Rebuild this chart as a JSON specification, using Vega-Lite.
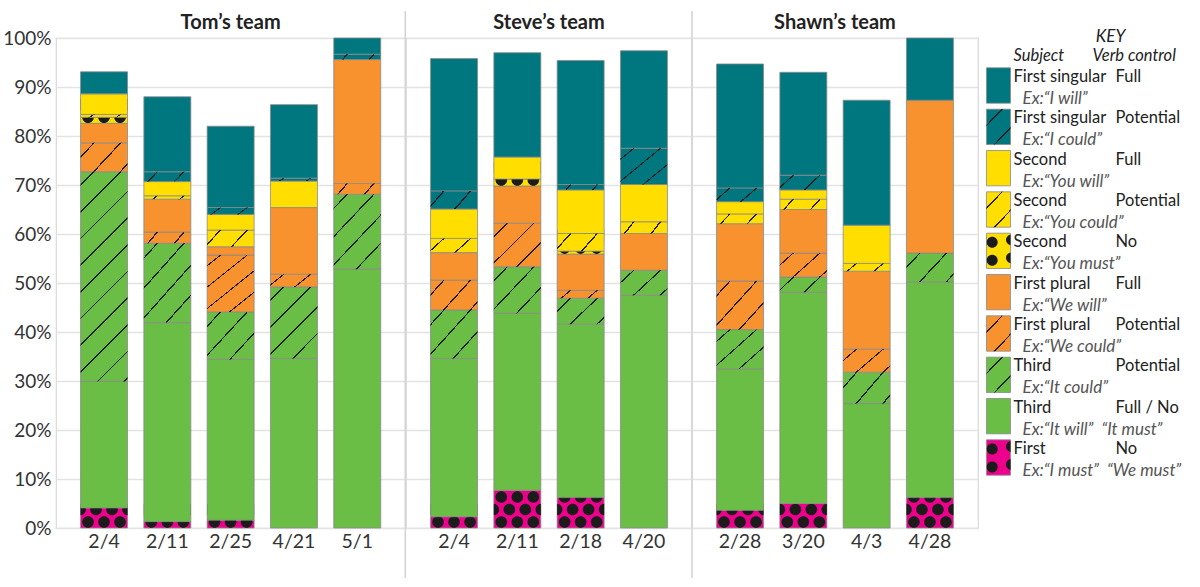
{
"$schema": "https://vega.github.io/schema/vega-lite/v6.json",
"background": "white",
"padding": {"left": 2, "top": 9, "right": 0, "bottom": 0},
"config": {"font": "Lato", "view": {"stroke": null}},
"datasets": {
"cats": [
{"cat":"First No","order":1,"pattern":"dots","subject":"First","verb":"No","ex":"Ex:“I must”\u00a0\u00a0“We must”"},
{"cat":"Third Full/No","order":2,"pattern":"solid","subject":"Third","verb":"Full / No","ex":"Ex:“It will”\u00a0\u00a0“It must”"},
{"cat":"Third Potential","order":3,"pattern":"hatch","subject":"Third","verb":"Potential","ex":"Ex:“It could”"},
{"cat":"First plural Potential","order":4,"pattern":"hatch","subject":"First plural","verb":"Potential","ex":"Ex:“We could”"},
{"cat":"First plural Full","order":5,"pattern":"solid","subject":"First plural","verb":"Full","ex":"Ex:“We will”"},
{"cat":"Second No","order":6,"pattern":"dots","subject":"Second","verb":"No","ex":"Ex:“You must”"},
{"cat":"Second Potential","order":7,"pattern":"hatch","subject":"Second","verb":"Potential","ex":"Ex:“You could”"},
{"cat":"Second Full","order":8,"pattern":"solid","subject":"Second","verb":"Full","ex":"Ex:“You will”"},
{"cat":"First singular Potential","order":9,"pattern":"hatch","subject":"First singular","verb":"Potential","ex":"Ex:“I could”"},
{"cat":"First singular Full","order":10,"pattern":"solid","subject":"First singular","verb":"Full","ex":"Ex:“I will”"}
],
"bars": [
{"team":"Tom’s team","date":"2/4","cat":"First No","value":4.1},
{"team":"Tom’s team","date":"2/4","cat":"Third Full/No","value":25.8},
{"team":"Tom’s team","date":"2/4","cat":"Third Potential","value":42.8},
{"team":"Tom’s team","date":"2/4","cat":"First plural Potential","value":5.9},
{"team":"Tom’s team","date":"2/4","cat":"First plural Full","value":4.0},
{"team":"Tom’s team","date":"2/4","cat":"Second No","value":1.2},
{"team":"Tom’s team","date":"2/4","cat":"Second Potential","value":0.6},
{"team":"Tom’s team","date":"2/4","cat":"Second Full","value":4.2},
{"team":"Tom’s team","date":"2/4","cat":"First singular Full","value":4.5},
{"team":"Tom’s team","date":"2/11","cat":"First No","value":1.3},
{"team":"Tom’s team","date":"2/11","cat":"Third Full/No","value":40.6},
{"team":"Tom’s team","date":"2/11","cat":"Third Potential","value":16.2},
{"team":"Tom’s team","date":"2/11","cat":"First plural Potential","value":2.3},
{"team":"Tom’s team","date":"2/11","cat":"First plural Full","value":6.7},
{"team":"Tom’s team","date":"2/11","cat":"Second Potential","value":0.7},
{"team":"Tom’s team","date":"2/11","cat":"Second Full","value":2.9},
{"team":"Tom’s team","date":"2/11","cat":"First singular Potential","value":2.0},
{"team":"Tom’s team","date":"2/11","cat":"First singular Full","value":15.3},
{"team":"Tom’s team","date":"2/25","cat":"First No","value":1.6},
{"team":"Tom’s team","date":"2/25","cat":"Third Full/No","value":32.8},
{"team":"Tom’s team","date":"2/25","cat":"Third Potential","value":9.7},
{"team":"Tom’s team","date":"2/25","cat":"First plural Potential","value":11.6},
{"team":"Tom’s team","date":"2/25","cat":"First plural Full","value":1.7},
{"team":"Tom’s team","date":"2/25","cat":"Second Potential","value":3.4},
{"team":"Tom’s team","date":"2/25","cat":"Second Full","value":3.2},
{"team":"Tom’s team","date":"2/25","cat":"First singular Potential","value":1.4},
{"team":"Tom’s team","date":"2/25","cat":"First singular Full","value":16.6},
{"team":"Tom’s team","date":"4/21","cat":"Third Full/No","value":34.6},
{"team":"Tom’s team","date":"4/21","cat":"Third Potential","value":14.6},
{"team":"Tom’s team","date":"4/21","cat":"First plural Potential","value":2.6},
{"team":"Tom’s team","date":"4/21","cat":"First plural Full","value":13.6},
{"team":"Tom’s team","date":"4/21","cat":"Second Full","value":5.4},
{"team":"Tom’s team","date":"4/21","cat":"First singular Potential","value":0.6},
{"team":"Tom’s team","date":"4/21","cat":"First singular Full","value":15.0},
{"team":"Tom’s team","date":"5/1","cat":"Third Full/No","value":52.8},
{"team":"Tom’s team","date":"5/1","cat":"Third Potential","value":15.3},
{"team":"Tom’s team","date":"5/1","cat":"First plural Potential","value":2.2},
{"team":"Tom’s team","date":"5/1","cat":"First plural Full","value":25.3},
{"team":"Tom’s team","date":"5/1","cat":"First singular Potential","value":1.1},
{"team":"Tom’s team","date":"5/1","cat":"First singular Full","value":3.3},
{"team":"Steve’s team","date":"2/4","cat":"First No","value":2.3},
{"team":"Steve’s team","date":"2/4","cat":"Third Full/No","value":32.3},
{"team":"Steve’s team","date":"2/4","cat":"Third Potential","value":9.9},
{"team":"Steve’s team","date":"2/4","cat":"First plural Potential","value":6.1},
{"team":"Steve’s team","date":"2/4","cat":"First plural Full","value":5.6},
{"team":"Steve’s team","date":"2/4","cat":"Second Potential","value":2.9},
{"team":"Steve’s team","date":"2/4","cat":"Second Full","value":6.0},
{"team":"Steve’s team","date":"2/4","cat":"First singular Potential","value":3.7},
{"team":"Steve’s team","date":"2/4","cat":"First singular Full","value":27.0},
{"team":"Steve’s team","date":"2/11","cat":"First No","value":7.7},
{"team":"Steve’s team","date":"2/11","cat":"Third Full/No","value":36.1},
{"team":"Steve’s team","date":"2/11","cat":"Third Potential","value":9.5},
{"team":"Steve’s team","date":"2/11","cat":"First plural Potential","value":8.9},
{"team":"Steve’s team","date":"2/11","cat":"First plural Full","value":7.6},
{"team":"Steve’s team","date":"2/11","cat":"Second No","value":1.4},
{"team":"Steve’s team","date":"2/11","cat":"Second Full","value":4.5},
{"team":"Steve’s team","date":"2/11","cat":"First singular Full","value":21.3},
{"team":"Steve’s team","date":"2/18","cat":"First No","value":6.2},
{"team":"Steve’s team","date":"2/18","cat":"Third Full/No","value":35.4},
{"team":"Steve’s team","date":"2/18","cat":"Third Potential","value":5.3},
{"team":"Steve’s team","date":"2/18","cat":"First plural Potential","value":1.6},
{"team":"Steve’s team","date":"2/18","cat":"First plural Full","value":7.4},
{"team":"Steve’s team","date":"2/18","cat":"Second No","value":0.6},
{"team":"Steve’s team","date":"2/18","cat":"Second Potential","value":3.6},
{"team":"Steve’s team","date":"2/18","cat":"Second Full","value":8.9},
{"team":"Steve’s team","date":"2/18","cat":"First singular Potential","value":1.1},
{"team":"Steve’s team","date":"2/18","cat":"First singular Full","value":25.3},
{"team":"Steve’s team","date":"4/20","cat":"Third Full/No","value":47.5},
{"team":"Steve’s team","date":"4/20","cat":"Third Potential","value":5.1},
{"team":"Steve’s team","date":"4/20","cat":"First plural Full","value":7.5},
{"team":"Steve’s team","date":"4/20","cat":"Second Potential","value":2.4},
{"team":"Steve’s team","date":"4/20","cat":"Second Full","value":7.6},
{"team":"Steve’s team","date":"4/20","cat":"First singular Potential","value":7.4},
{"team":"Steve’s team","date":"4/20","cat":"First singular Full","value":19.9},
{"team":"Shawn’s team","date":"2/28","cat":"First No","value":3.6},
{"team":"Shawn’s team","date":"2/28","cat":"Third Full/No","value":28.9},
{"team":"Shawn’s team","date":"2/28","cat":"Third Potential","value":8.0},
{"team":"Shawn’s team","date":"2/28","cat":"First plural Potential","value":9.9},
{"team":"Shawn’s team","date":"2/28","cat":"First plural Full","value":11.7},
{"team":"Shawn’s team","date":"2/28","cat":"Second Potential","value":2.0},
{"team":"Shawn’s team","date":"2/28","cat":"Second Full","value":2.5},
{"team":"Shawn’s team","date":"2/28","cat":"First singular Potential","value":2.8},
{"team":"Shawn’s team","date":"2/28","cat":"First singular Full","value":25.3},
{"team":"Shawn’s team","date":"3/20","cat":"First No","value":5.0},
{"team":"Shawn’s team","date":"3/20","cat":"Third Full/No","value":43.1},
{"team":"Shawn’s team","date":"3/20","cat":"Third Potential","value":3.1},
{"team":"Shawn’s team","date":"3/20","cat":"First plural Potential","value":4.9},
{"team":"Shawn’s team","date":"3/20","cat":"First plural Full","value":8.9},
{"team":"Shawn’s team","date":"3/20","cat":"Second Potential","value":2.1},
{"team":"Shawn’s team","date":"3/20","cat":"Second Full","value":1.9},
{"team":"Shawn’s team","date":"3/20","cat":"First singular Potential","value":3.0},
{"team":"Shawn’s team","date":"3/20","cat":"First singular Full","value":21.0},
{"team":"Shawn’s team","date":"4/3","cat":"Third Full/No","value":25.4},
{"team":"Shawn’s team","date":"4/3","cat":"Third Potential","value":6.4},
{"team":"Shawn’s team","date":"4/3","cat":"First plural Potential","value":4.7},
{"team":"Shawn’s team","date":"4/3","cat":"First plural Full","value":15.9},
{"team":"Shawn’s team","date":"4/3","cat":"Second Potential","value":1.6},
{"team":"Shawn’s team","date":"4/3","cat":"Second Full","value":7.8},
{"team":"Shawn’s team","date":"4/3","cat":"First singular Full","value":25.5},
{"team":"Shawn’s team","date":"4/28","cat":"First No","value":6.2},
{"team":"Shawn’s team","date":"4/28","cat":"Third Full/No","value":44.0},
{"team":"Shawn’s team","date":"4/28","cat":"Third Potential","value":5.9},
{"team":"Shawn’s team","date":"4/28","cat":"First plural Full","value":31.2},
{"team":"Shawn’s team","date":"4/28","cat":"First singular Full","value":12.7}
]
},
"spacing": 7,
"hconcat": [
{
"data": {"name": "bars"},
"transform": [
{"lookup": "cat", "from": {"data": {"name": "cats"}, "key": "cat", "fields": ["order", "pattern"]}},
{"stack": "value", "groupby": ["team", "date"], "sort": [{"field": "order", "order": "ascending"}], "as": ["y0", "y1"]}
],
"facet": {"column": {"field": "team", "type": "nominal", "sort": ["Tom’s team", "Steve’s team", "Shawn’s team"], "title": null,
  "header": {"labelFontSize": 20, "labelFontWeight": "bold", "labelColor": "#222222", "labelPadding": 5}}},
"spacing": 0,
"align": "none",
"bounds": "flush",
"resolve": {"scale": {"x": "independent"}},
"spec": {
"width": {"step": 63.3},
"height": 490,
"view": {"stroke": "#d9d9d9", "strokeWidth": 1.2},
"encoding": {
  "x": {"field": "date", "type": "nominal", "title": null,
    "sort": ["2/4","2/11","2/25","4/21","5/1","2/18","4/20","2/28","3/20","4/3","4/28"],
    "scale": {"paddingInner": 0.258, "paddingOuter": 0.388},
    "axis": {"labelAngle": 0, "labelFontSize": 19.5, "labelColor": "#333333", "ticks": false, "domain": false, "labelPadding": 4}}
},
"layer": [
{"transform": [{"filter": "datum.order === 1"}],
 "mark": {"type": "bar", "stroke": "#8a8a8a", "strokeWidth": 0.8},
 "encoding": {
  "y": {"field": "y1", "type": "quantitative", "title": null, "scale": {"domain": [0, 100], "nice": false},
    "axis": {"values": [0,10,20,30,40,50,60,70,80,90,100], "labelExpr": "datum.value + '%'", "labelFontSize": 19, "labelColor": "#333333", "ticks": false, "domain": false, "gridColor": "#e3e3e3", "gridWidth": 1.3, "labelPadding": 5}},
  "y2": {"field": "y0"},
  "color": {"field": "cat", "type": "nominal", "legend": null,
    "scale": {"domain": ["First No","Third Full/No","Third Potential","First plural Potential","First plural Full","Second No","Second Potential","Second Full","First singular Potential","First singular Full"],
      "range": ["#EC008C","#6ABD45","#6ABD45","#F7922F","#F7922F","#FFDE00","#FFDE00","#FFDE00","#00777F","#00777F"]}}
 }},
{"transform": [{"filter": "datum.order === 1"}],
 "mark": {"type": "point", "shape": "M-21.8,-6a5.8,5.8 0 1,0 11.6,0a5.8,5.8 0 1,0 -11.6,0ZM-5.8,-6a5.8,5.8 0 1,0 11.6,0a5.8,5.8 0 1,0 -11.6,0ZM10.2,-6a5.8,5.8 0 1,0 11.6,0a5.8,5.8 0 1,0 -11.6,0ZM-13.8,-18.5a5.8,5.8 0 1,0 11.6,0a5.8,5.8 0 1,0 -11.6,0ZM2.2,-18.5a5.8,5.8 0 1,0 11.6,0a5.8,5.8 0 1,0 -11.6,0ZM-23.5,-24.28A5.8,5.8 0 0,1 -23.5,-12.72ZM23.5,-24.28A5.8,5.8 0 0,0 23.5,-12.72ZM-21.8,-31a5.8,5.8 0 1,0 11.6,0a5.8,5.8 0 1,0 -11.6,0ZM-5.8,-31a5.8,5.8 0 1,0 11.6,0a5.8,5.8 0 1,0 -11.6,0ZM10.2,-31a5.8,5.8 0 1,0 11.6,0a5.8,5.8 0 1,0 -11.6,0Z", "size": 4, "filled": true, "color": "#1b1b1b", "opacity": 1, "strokeWidth": 0},
 "encoding": {"y": {"field": "y0", "type": "quantitative", "title": null}}},
{"transform": [{"filter": "datum.order >= 2 && datum.order <= 6"}],
 "mark": {"type": "bar", "stroke": "#8a8a8a", "strokeWidth": 0.8},
 "encoding": {
  "y": {"field": "y1", "type": "quantitative", "title": null},
  "y2": {"field": "y0"},
  "color": {"field": "cat", "type": "nominal", "legend": null}
 }},
{"transform": [{"filter": "datum.order === 6"}],
 "mark": {"type": "point", "shape": "M-21.8,-6a5.8,5.8 0 1,0 11.6,0a5.8,5.8 0 1,0 -11.6,0ZM-5.8,-6a5.8,5.8 0 1,0 11.6,0a5.8,5.8 0 1,0 -11.6,0ZM10.2,-6a5.8,5.8 0 1,0 11.6,0a5.8,5.8 0 1,0 -11.6,0ZM-13.8,-18.5a5.8,5.8 0 1,0 11.6,0a5.8,5.8 0 1,0 -11.6,0ZM2.2,-18.5a5.8,5.8 0 1,0 11.6,0a5.8,5.8 0 1,0 -11.6,0ZM-23.5,-24.28A5.8,5.8 0 0,1 -23.5,-12.72ZM23.5,-24.28A5.8,5.8 0 0,0 23.5,-12.72Z", "size": 4, "filled": true, "color": "#1b1b1b", "opacity": 1, "strokeWidth": 0},
 "encoding": {"y": {"field": "y0", "type": "quantitative", "title": null}}},
{"transform": [{"filter": "datum.order >= 7"}],
 "mark": {"type": "bar", "stroke": "#8a8a8a", "strokeWidth": 0.8},
 "encoding": {
  "y": {"field": "y1", "type": "quantitative", "title": null},
  "y2": {"field": "y0"},
  "color": {"field": "cat", "type": "nominal", "legend": null}
 }},
{"transform": [{"filter": "datum.pattern === 'hatch' && datum.value < 1.3"}],
 "mark": {"type": "bar", "strokeWidth": 0, "fill": {"gradient": "linear", "x1": 0, "y1": 0, "x2": 1.084, "y2": 0.1015, "stops": [
   {"offset": 0, "color": "rgba(30,30,30,0)"},
   {"offset": 0.2435, "color": "rgba(30,30,30,0)"}, {"offset": 0.2435, "color": "#1e1e1e"}, {"offset": 0.2765, "color": "#1e1e1e"}, {"offset": 0.2765, "color": "rgba(30,30,30,0)"},
   {"offset": 0.7635, "color": "rgba(30,30,30,0)"}, {"offset": 0.7635, "color": "#1e1e1e"}, {"offset": 0.7965, "color": "#1e1e1e"}, {"offset": 0.7965, "color": "rgba(30,30,30,0)"},
   {"offset": 1, "color": "rgba(30,30,30,0)"}]}},
 "encoding": {"y": {"field": "y1", "type": "quantitative", "title": null}, "y2": {"field": "y0"}}},
{"transform": [{"filter": "datum.pattern === 'hatch' && datum.value >= 1.3 && datum.value < 2.5"}],
 "mark": {"type": "bar", "strokeWidth": 0, "fill": {"gradient": "linear", "x1": 0, "y1": 0, "x2": 1.153, "y2": 0.228, "stops": [
   {"offset": 0, "color": "rgba(30,30,30,0)"},
   {"offset": 0.222, "color": "rgba(30,30,30,0)"}, {"offset": 0.222, "color": "#1e1e1e"}, {"offset": 0.252, "color": "#1e1e1e"}, {"offset": 0.252, "color": "rgba(30,30,30,0)"},
   {"offset": 0.696, "color": "rgba(30,30,30,0)"}, {"offset": 0.696, "color": "#1e1e1e"}, {"offset": 0.726, "color": "#1e1e1e"}, {"offset": 0.726, "color": "rgba(30,30,30,0)"},
   {"offset": 1, "color": "rgba(30,30,30,0)"}]}},
 "encoding": {"y": {"field": "y1", "type": "quantitative", "title": null}, "y2": {"field": "y0"}}},
{"transform": [{"filter": "datum.pattern === 'hatch' && datum.value >= 2.5 && datum.value < 4.3"}],
 "mark": {"type": "bar", "strokeWidth": 0, "fill": {"gradient": "linear", "x1": 0, "y1": 0, "x2": 1.2, "y2": 0.401, "stops": [
   {"offset": 0, "color": "rgba(30,30,30,0)"},
   {"offset": 0.199, "color": "rgba(30,30,30,0)"}, {"offset": 0.199, "color": "#1e1e1e"}, {"offset": 0.227, "color": "#1e1e1e"}, {"offset": 0.227, "color": "rgba(30,30,30,0)"},
   {"offset": 0.625, "color": "rgba(30,30,30,0)"}, {"offset": 0.625, "color": "#1e1e1e"}, {"offset": 0.653, "color": "#1e1e1e"}, {"offset": 0.653, "color": "rgba(30,30,30,0)"},
   {"offset": 1, "color": "rgba(30,30,30,0)"}]}},
 "encoding": {"y": {"field": "y1", "type": "quantitative", "title": null}, "y2": {"field": "y0"}}},
{"transform": [{"filter": "datum.pattern === 'hatch' && datum.value >= 4.3 && datum.value < 7"}],
 "mark": {"type": "bar", "strokeWidth": 0, "fill": {"gradient": "linear", "x1": 0, "y1": 0, "x2": 1.184, "y2": 0.68, "stops": [
   {"offset": 0, "color": "rgba(30,30,30,0)"},
   {"offset": 0.169, "color": "rgba(30,30,30,0)"}, {"offset": 0.169, "color": "#1e1e1e"}, {"offset": 0.192, "color": "#1e1e1e"}, {"offset": 0.192, "color": "rgba(30,30,30,0)"},
   {"offset": 0.53, "color": "rgba(30,30,30,0)"}, {"offset": 0.53, "color": "#1e1e1e"}, {"offset": 0.553, "color": "#1e1e1e"}, {"offset": 0.553, "color": "rgba(30,30,30,0)"},
   {"offset": 0.89, "color": "rgba(30,30,30,0)"}, {"offset": 0.89, "color": "#1e1e1e"}, {"offset": 0.914, "color": "#1e1e1e"}, {"offset": 0.914, "color": "rgba(30,30,30,0)"},
   {"offset": 1, "color": "rgba(30,30,30,0)"}]}},
 "encoding": {"y": {"field": "y1", "type": "quantitative", "title": null}, "y2": {"field": "y0"}}},
{"transform": [{"filter": "datum.pattern === 'hatch' && datum.value >= 7 && datum.value < 11"}],
 "mark": {"type": "bar", "strokeWidth": 0, "fill": {"gradient": "linear", "x1": 0, "y1": 0, "x2": 1.032, "y2": 0.966, "stops": [
   {"offset": 0, "color": "rgba(30,30,30,0)"},
   {"offset": 0.137, "color": "rgba(30,30,30,0)"}, {"offset": 0.137, "color": "#1e1e1e"}, {"offset": 0.156, "color": "#1e1e1e"}, {"offset": 0.156, "color": "rgba(30,30,30,0)"},
   {"offset": 0.431, "color": "rgba(30,30,30,0)"}, {"offset": 0.431, "color": "#1e1e1e"}, {"offset": 0.449, "color": "#1e1e1e"}, {"offset": 0.449, "color": "rgba(30,30,30,0)"},
   {"offset": 0.724, "color": "rgba(30,30,30,0)"}, {"offset": 0.724, "color": "#1e1e1e"}, {"offset": 0.742, "color": "#1e1e1e"}, {"offset": 0.742, "color": "rgba(30,30,30,0)"},
   {"offset": 1, "color": "rgba(30,30,30,0)"}]}},
 "encoding": {"y": {"field": "y1", "type": "quantitative", "title": null}, "y2": {"field": "y0"}}},
{"transform": [{"filter": "datum.pattern === 'hatch' && datum.value >= 11 && datum.value < 20"}],
 "mark": {"type": "bar", "strokeWidth": 0, "fill": {"gradient": "linear", "x1": 0, "y1": 0, "x2": 0.765, "y2": 1.156, "stops": [
   {"offset": 0, "color": "rgba(30,30,30,0)"},
   {"offset": 0.106, "color": "rgba(30,30,30,0)"}, {"offset": 0.106, "color": "#1e1e1e"}, {"offset": 0.12, "color": "#1e1e1e"}, {"offset": 0.12, "color": "rgba(30,30,30,0)"},
   {"offset": 0.332, "color": "rgba(30,30,30,0)"}, {"offset": 0.332, "color": "#1e1e1e"}, {"offset": 0.346, "color": "#1e1e1e"}, {"offset": 0.346, "color": "rgba(30,30,30,0)"},
   {"offset": 0.558, "color": "rgba(30,30,30,0)"}, {"offset": 0.558, "color": "#1e1e1e"}, {"offset": 0.572, "color": "#1e1e1e"}, {"offset": 0.572, "color": "rgba(30,30,30,0)"},
   {"offset": 0.784, "color": "rgba(30,30,30,0)"}, {"offset": 0.784, "color": "#1e1e1e"}, {"offset": 0.798, "color": "#1e1e1e"}, {"offset": 0.798, "color": "rgba(30,30,30,0)"},
   {"offset": 1, "color": "rgba(30,30,30,0)"}]}},
 "encoding": {"y": {"field": "y1", "type": "quantitative", "title": null}, "y2": {"field": "y0"}}},
{"transform": [{"filter": "datum.pattern === 'hatch' && datum.value >= 20"}],
 "mark": {"type": "bar", "strokeWidth": 0, "fill": {"gradient": "linear", "x1": 0, "y1": 0, "x2": 0.261, "y2": 1.166, "stops": [
   {"offset": 0, "color": "rgba(30,30,30,0)"},
   {"offset": 0.0487, "color": "rgba(30,30,30,0)"}, {"offset": 0.0487, "color": "#1e1e1e"}, {"offset": 0.0553, "color": "#1e1e1e"}, {"offset": 0.0553, "color": "rgba(30,30,30,0)"},
   {"offset": 0.1527, "color": "rgba(30,30,30,0)"}, {"offset": 0.1527, "color": "#1e1e1e"}, {"offset": 0.1593, "color": "#1e1e1e"}, {"offset": 0.1593, "color": "rgba(30,30,30,0)"},
   {"offset": 0.2567, "color": "rgba(30,30,30,0)"}, {"offset": 0.2567, "color": "#1e1e1e"}, {"offset": 0.2633, "color": "#1e1e1e"}, {"offset": 0.2633, "color": "rgba(30,30,30,0)"},
   {"offset": 0.3607, "color": "rgba(30,30,30,0)"}, {"offset": 0.3607, "color": "#1e1e1e"}, {"offset": 0.3673, "color": "#1e1e1e"}, {"offset": 0.3673, "color": "rgba(30,30,30,0)"},
   {"offset": 0.4647, "color": "rgba(30,30,30,0)"}, {"offset": 0.4647, "color": "#1e1e1e"}, {"offset": 0.4713, "color": "#1e1e1e"}, {"offset": 0.4713, "color": "rgba(30,30,30,0)"},
   {"offset": 0.5677, "color": "rgba(30,30,30,0)"}, {"offset": 0.5677, "color": "#1e1e1e"}, {"offset": 0.5743, "color": "#1e1e1e"}, {"offset": 0.5743, "color": "rgba(30,30,30,0)"},
   {"offset": 0.6717, "color": "rgba(30,30,30,0)"}, {"offset": 0.6717, "color": "#1e1e1e"}, {"offset": 0.6783, "color": "#1e1e1e"}, {"offset": 0.6783, "color": "rgba(30,30,30,0)"},
   {"offset": 0.7757, "color": "rgba(30,30,30,0)"}, {"offset": 0.7757, "color": "#1e1e1e"}, {"offset": 0.7823, "color": "#1e1e1e"}, {"offset": 0.7823, "color": "rgba(30,30,30,0)"},
   {"offset": 0.8797, "color": "rgba(30,30,30,0)"}, {"offset": 0.8797, "color": "#1e1e1e"}, {"offset": 0.8863, "color": "#1e1e1e"}, {"offset": 0.8863, "color": "rgba(30,30,30,0)"},
   {"offset": 0.9837, "color": "rgba(30,30,30,0)"}, {"offset": 0.9837, "color": "#1e1e1e"}, {"offset": 0.9903, "color": "#1e1e1e"}, {"offset": 0.9903, "color": "rgba(30,30,30,0)"},
   {"offset": 1, "color": "rgba(30,30,30,0)"}]}},
 "encoding": {"y": {"field": "y1", "type": "quantitative", "title": null}, "y2": {"field": "y0"}}},
{"transform": [{"aggregate": [{"op": "count", "as": "n"}], "groupby": ["team"]}, {"filter": "datum.team !== 'Shawn’s team'"}],
 "mark": {"type": "rule", "color": "#d2d2d2", "strokeWidth": 1.5},
 "encoding": {"x": {"value": "width"}, "y": {"datum": 105.5, "type": "quantitative"}, "y2": {"datum": -10.2}}}
]
}
},
{
"data": {"name": "cats"},
"width": 212,
"height": 490,
"layer": [
{"mark": {"type": "rect", "stroke": "#8a8a8a", "strokeWidth": 0.8},
 "encoding": {
  "x": {"datum": 0.5, "type": "quantitative", "scale": {"domain": [0, 212], "nice": false, "zero": false}, "axis": null},
  "x2": {"datum": 24.5},
  "y": {"field": "cat", "type": "nominal", "sort": {"field": "order", "order": "descending"}, "axis": null, "scale": {"paddingInner": 0.145, "paddingOuter": 1.32, "align": 0.361}},
  "color": {"field": "cat", "type": "nominal", "legend": null}
 }},
{"transform": [{"filter": "datum.pattern === 'hatch'"}],
 "mark": {"type": "rect", "strokeWidth": 0, "fill": {"gradient": "linear", "x1": 0, "y1": 0, "x2": 0.813, "y2": 1.134, "stops": [
   {"offset": 0, "color": "rgba(30,30,30,0)"},
   {"offset": 0.255, "color": "rgba(30,30,30,0)"}, {"offset": 0.255, "color": "#1e1e1e"}, {"offset": 0.285, "color": "#1e1e1e"}, {"offset": 0.285, "color": "rgba(30,30,30,0)"},
   {"offset": 0.707, "color": "rgba(30,30,30,0)"}, {"offset": 0.707, "color": "#1e1e1e"}, {"offset": 0.737, "color": "#1e1e1e"}, {"offset": 0.737, "color": "rgba(30,30,30,0)"},
   {"offset": 1, "color": "rgba(30,30,30,0)"}]}},
 "encoding": {
  "x": {"datum": 0.5, "type": "quantitative", "axis": null},
  "x2": {"datum": 24.5},
  "y": {"field": "cat", "type": "nominal", "sort": {"field": "order", "order": "descending"}, "axis": null}
 }},
{"transform": [{"filter": "datum.pattern === 'dots'"}],
 "mark": {"type": "point", "shape": "M-11.8,-8.5a5.5,5.5 0 1,0 11,0a5.5,5.5 0 1,0 -11,0ZM-11.8,9.5a5.5,5.5 0 1,0 11,0a5.5,5.5 0 1,0 -11,0ZM12,-16.41A5.5,5.5 0 0,0 12,-5.59ZM12,1.59A5.5,5.5 0 0,0 12,12.41Z", "size": 4, "filled": true, "color": "#1b1b1b", "opacity": 1, "strokeWidth": 0},
 "encoding": {
  "x": {"datum": 12.5, "type": "quantitative", "axis": null},
  "y": {"field": "cat", "type": "nominal", "sort": {"field": "order", "order": "descending"}, "axis": null}
 }},
{"mark": {"type": "text", "align": "left", "baseline": "middle", "fontSize": 16.5, "color": "#222222"},
 "encoding": {
  "x": {"datum": 27.5, "type": "quantitative", "axis": null},
  "y": {"field": "cat", "type": "nominal", "sort": {"field": "order", "order": "descending"}, "axis": null, "bandPosition": 0.26},
  "text": {"field": "subject"}
 }},
{"mark": {"type": "text", "align": "left", "baseline": "middle", "fontSize": 16.5, "color": "#222222"},
 "encoding": {
  "x": {"datum": 129.5, "type": "quantitative", "axis": null},
  "y": {"field": "cat", "type": "nominal", "sort": {"field": "order", "order": "descending"}, "axis": null, "bandPosition": 0.26},
  "text": {"field": "verb"}
 }},
{"mark": {"type": "text", "align": "left", "baseline": "middle", "fontSize": 17, "fontStyle": "italic", "color": "#555555"},
 "encoding": {
  "x": {"datum": 36.5, "type": "quantitative", "axis": null},
  "y": {"field": "cat", "type": "nominal", "sort": {"field": "order", "order": "descending"}, "axis": null, "bandPosition": 0.88},
  "text": {"field": "ex"}
 }},
{"transform": [{"filter": "datum.order === 10"}],
 "mark": {"type": "text", "align": "center", "baseline": "middle", "fontSize": 17, "fontStyle": "italic", "color": "#222222", "text": "KEY"},
 "encoding": {
  "x": {"datum": 124.5, "type": "quantitative", "axis": null},
  "y": {"field": "cat", "type": "nominal", "sort": {"field": "order", "order": "descending"}, "axis": null, "bandPosition": -0.86}
 }},
{"transform": [{"filter": "datum.order === 10"}],
 "mark": {"type": "text", "align": "left", "baseline": "middle", "fontSize": 16.5, "fontStyle": "italic", "color": "#222222", "text": "Subject"},
 "encoding": {
  "x": {"datum": 27.5, "type": "quantitative", "axis": null},
  "y": {"field": "cat", "type": "nominal", "sort": {"field": "order", "order": "descending"}, "axis": null, "bandPosition": -0.34}
 }},
{"transform": [{"filter": "datum.order === 10"}],
 "mark": {"type": "text", "align": "left", "baseline": "middle", "fontSize": 16.5, "fontStyle": "italic", "color": "#222222", "text": "Verb control"},
 "encoding": {
  "x": {"datum": 106.5, "type": "quantitative", "axis": null},
  "y": {"field": "cat", "type": "nominal", "sort": {"field": "order", "order": "descending"}, "axis": null, "bandPosition": -0.34}
 }}
]
}
]
}
